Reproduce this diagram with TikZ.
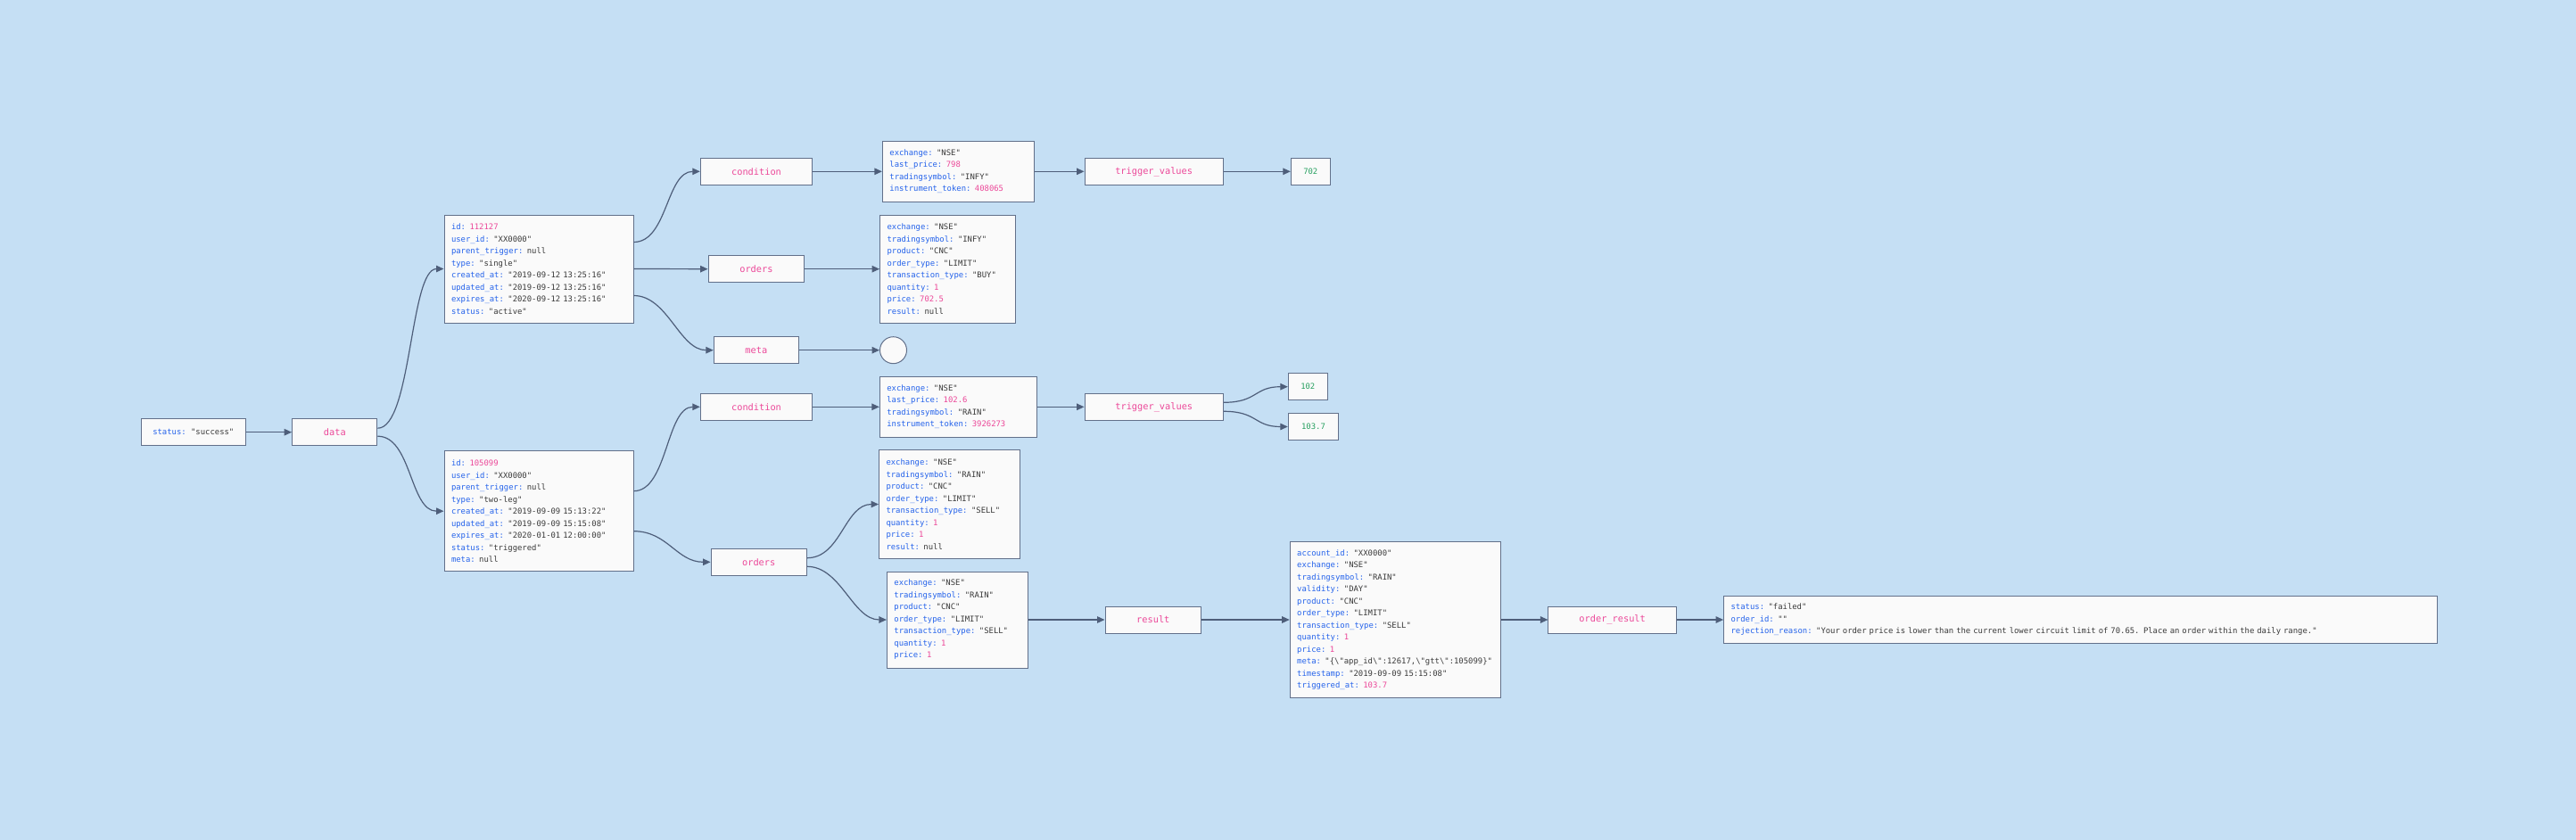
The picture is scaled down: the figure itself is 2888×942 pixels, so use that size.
\documentclass[tikz,border=0pt]{standalone}
\usepackage{fontspec}
\setmonofont{DejaVu Sans Mono}
\usepackage{tikz}
\usetikzlibrary{positioning,arrows.meta}

\definecolor{bgblue}{RGB}{197,223,244}
\definecolor{boxfill}{RGB}{250,250,250}
\definecolor{boxline}{RGB}{98,112,138}
\definecolor{edgec}{RGB}{78,94,122}
\definecolor{keyc}{RGB}{37,99,235}
\definecolor{strc}{RGB}{58,58,58}
\definecolor{numc}{RGB}{236,72,153}
\definecolor{grnc}{RGB}{39,160,96}

\newcommand{\jk}[1]{\textcolor{keyc}{#1:}}
\newcommand{\js}[1]{\textcolor{strc}{"#1"}}
\newcommand{\jn}[1]{\textcolor{numc}{#1}}
\newcommand{\jnull}{\textcolor{strc}{null}}

\begin{document}
\begin{tikzpicture}[
  x=1pt, y=-1pt,
  >={Triangle[length=8.5pt,width=7.5pt]},
  jbox/.style={draw=boxline, fill=boxfill, line width=1pt},
  lbl/.style={jbox, minimum height=30pt, inner sep=0pt, text=numc, font=\ttfamily\fontsize{10.3}{12}\selectfont},
  val/.style={jbox, minimum height=30pt, inner xsep=13pt, inner ysep=0pt, font=\ttfamily\fontsize{8.9}{13.5}\selectfont},
  infobox/.style={jbox, align=left, inner xsep=8pt, inner ysep=0pt, font=\ttfamily\fontsize{8.9}{13.5}\selectfont},
  link/.style={->, draw=edgec, line width=1.2pt},
  sflow/.style={link, to path={.. controls +(38,0) and +(-38,0) .. (\tikztotarget) \tikztonodes}}
]
\fill[bgblue] (0,0) rectangle (2888,942);

% Root
\node[val, minimum width=117pt] (status) at (216.8,484.7) {\jk{status} \js{success}};
\node[lbl, minimum width=95.3pt] (data) at (375.3,484.7) {data};

% Trigger items
\node[infobox, text width=196pt, minimum height=121pt] (item1) at (604,301.5) {%
\jk{id} \jn{112127}\\
\jk{user\_id} \js{XX0000}\\
\jk{parent\_trigger} \jnull\\
\jk{type} \js{single}\\
\jk{created\_at} \js{2019-09-12 13:25:16}\\
\jk{updated\_at} \js{2019-09-12 13:25:16}\\
\jk{expires\_at} \js{2020-09-12 13:25:16}\\
\jk{status} \js{active}};
\node[infobox, text width=196pt, minimum height=135pt] (item2) at (604,573.2) {%
\jk{id} \jn{105099}\\
\jk{user\_id} \js{XX0000}\\
\jk{parent\_trigger} \jnull\\
\jk{type} \js{two-leg}\\
\jk{created\_at} \js{2019-09-09 15:13:22}\\
\jk{updated\_at} \js{2019-09-09 15:15:08}\\
\jk{expires\_at} \js{2020-01-01 12:00:00}\\
\jk{status} \js{triggered}\\
\jk{meta} \jnull};

% First item
\node[lbl, minimum width=125.4pt] (cond1) at (848,192.3) {condition};
\node[infobox, text width=154pt, minimum height=67.6pt, right=77.7pt of cond1] (condinfo1) {%
\jk{exchange} \js{NSE}\\
\jk{last\_price} \jn{798}\\
\jk{tradingsymbol} \js{INFY}\\
\jk{instrument\_token} \jn{408065}};
\node[lbl, minimum width=155.3pt, right=55.6pt of condinfo1] (tv1) {trigger\_values};
\node[val, minimum width=44pt, text=grnc, right=75pt of tv1] (v702) {702};

\node[lbl, minimum width=107.7pt] (orders1) at (847.9,301.7) {orders};
\node[infobox, text width=136pt, minimum height=121pt, right=83.8pt of orders1] (ordinfo1) {%
\jk{exchange} \js{NSE}\\
\jk{tradingsymbol} \js{INFY}\\
\jk{product} \js{CNC}\\
\jk{order\_type} \js{LIMIT}\\
\jk{transaction\_type} \js{BUY}\\
\jk{quantity} \jn{1}\\
\jk{price} \jn{702.5}\\
\jk{result} \jnull};

\node[lbl, minimum width=95pt] (meta) at (847.8,392.7) {meta};
\node[jbox, circle, minimum size=30pt, inner sep=0pt, right=90.2pt of meta] (metaval) {};

% Second item
\node[lbl, minimum width=125.4pt] (cond2) at (848,456.3) {condition};
\node[infobox, text width=160.6pt, minimum height=67.6pt, right=74.6pt of cond2] (condinfo2) {%
\jk{exchange} \js{NSE}\\
\jk{last\_price} \jn{102.6}\\
\jk{tradingsymbol} \js{RAIN}\\
\jk{instrument\_token} \jn{3926273}};
\node[lbl, minimum width=155.5pt, right=52.1pt of condinfo2] (tv2) {trigger\_values};
\node[val, minimum width=44pt, text=grnc] (v102) at (1466.3,433.7) {102};
\node[val, minimum width=56.4pt, text=grnc] (v1037) at (1472.5,478.5) {103.7};

\node[lbl, minimum width=107.3pt] (orders2) at (850.7,630.3) {orders};
\node[infobox, text width=142.2pt, minimum height=121.6pt] (sell1) at (1064.6,565.5) {%
\jk{exchange} \js{NSE}\\
\jk{tradingsymbol} \js{RAIN}\\
\jk{product} \js{CNC}\\
\jk{order\_type} \js{LIMIT}\\
\jk{transaction\_type} \js{SELL}\\
\jk{quantity} \jn{1}\\
\jk{price} \jn{1}\\
\jk{result} \jnull};
\node[infobox, text width=142.4pt, minimum height=108pt] (sell2) at (1073.6,695) {%
\jk{exchange} \js{NSE}\\
\jk{tradingsymbol} \js{RAIN}\\
\jk{product} \js{CNC}\\
\jk{order\_type} \js{LIMIT}\\
\jk{transaction\_type} \js{SELL}\\
\jk{quantity} \jn{1}\\
\jk{price} \jn{1}};

% Result chain
\node[lbl, minimum width=107.6pt, right=85.2pt of sell2] (result) {result};
\node[infobox, text width=220.5pt, minimum height=175.4pt, right=98.6pt of result] (resinfo) {%
\jk{account\_id} \js{XX0000}\\
\jk{exchange} \js{NSE}\\
\jk{tradingsymbol} \js{RAIN}\\
\jk{validity} \js{DAY}\\
\jk{product} \js{CNC}\\
\jk{order\_type} \js{LIMIT}\\
\jk{transaction\_type} \js{SELL}\\
\jk{quantity} \jn{1}\\
\jk{price} \jn{1}\\
\jk{meta} \js{\{\textbackslash"app\_id\textbackslash":12617,\textbackslash"gtt\textbackslash":105099\}}\\
\jk{timestamp} \js{2019-09-09 15:15:08}\\
\jk{triggered\_at} \jn{103.7}};
\node[lbl, minimum width=143.5pt, right=52.2pt of resinfo] (ordres) {order\_result};
\node[infobox, text width=784.1pt, minimum height=53.6pt, right=52.2pt of ordres] (final) {%
\jk{status} \js{failed}\\
\jk{order\_id} \js{}\\
\jk{rejection\_reason} \js{Your order price is lower than the current lower circuit limit of 70.65. Place an order within the daily range.}};

% Edges
\draw[link] (status) -- (data);
\draw[sflow] ([yshift=4.5pt]data.east) to (item1.west);
\draw[sflow] ([yshift=-4.5pt]data.east) to (item2.west);

\draw[sflow] ([yshift=30pt]item1.east) to (cond1.west);
\draw[link] (item1.east) -- (orders1.west);
\draw[sflow] ([yshift=-30pt]item1.east) to (meta.west);
\draw[link] (cond1) -- (condinfo1);
\draw[link] (condinfo1) -- (tv1);
\draw[link] (tv1) -- (v702);
\draw[link] (orders1) -- (ordinfo1);
\draw[link] (meta) -- (metaval);

\draw[sflow] ([yshift=22.5pt]item2.east) to (cond2.west);
\draw[sflow] ([yshift=-22.5pt]item2.east) to (orders2.west);
\draw[link] (cond2) -- (condinfo2);
\draw[link] (condinfo2) -- (tv2);
\draw[sflow] ([yshift=5pt]tv2.east) to (v102.west);
\draw[sflow] ([yshift=-5pt]tv2.east) to (v1037.west);
\draw[sflow] ([yshift=4.6pt]orders2.east) to (sell1.west);
\draw[sflow] ([yshift=-5pt]orders2.east) to (sell2.west);

\draw[link] (sell2) -- (result);
\draw[link] (result) -- (resinfo);
\draw[link] (resinfo) -- (ordres);
\draw[link] (ordres) -- (final);
\end{tikzpicture}
\end{document}
